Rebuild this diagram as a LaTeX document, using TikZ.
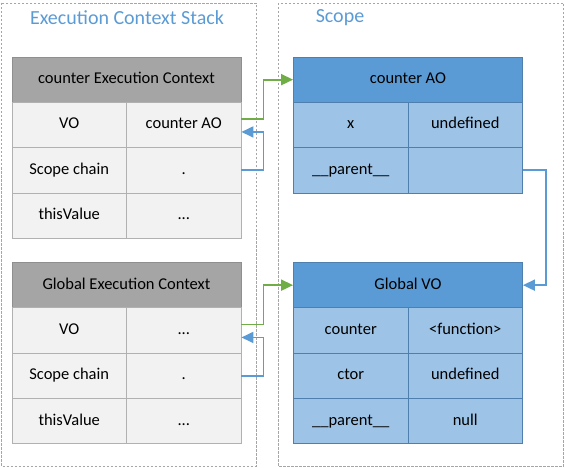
\documentclass[tikz,border=0pt]{standalone}
\usepackage{fontspec}
\setmainfont{Carlito}
\usetikzlibrary{arrows.meta}
\definecolor{framegray}{HTML}{A6A6A6}
\definecolor{titleblue}{HTML}{5B9BD5}
\definecolor{headgray}{HTML}{A5A5A5}
\definecolor{cellgray}{HTML}{F2F2F2}
\definecolor{linegray}{HTML}{8F8F8F}
\definecolor{headblue}{HTML}{5B9BD5}
\definecolor{cellblue}{HTML}{9DC3E6}
\definecolor{lineblue}{HTML}{4F7FAF}
\definecolor{linkgreen}{HTML}{70AD47}
\definecolor{linkblue}{HTML}{5B9BD5}
\begin{document}
\begin{tikzpicture}[x=1pt, y=-1pt]
    \tikzstyle{frame_style}=[draw=framegray, line width=0.8pt, dash pattern=on 2.5pt off 1.5pt]
    \tikzstyle{title_style}=[text=titleblue, font=\fontsize{20}{24}\selectfont]
    \tikzstyle{cell_style}=[rectangle, inner sep=0pt, minimum height=45.3, line width=0.8pt, text height=11.5pt, text depth=3.5pt, font=\fontsize{16.5}{20}\selectfont]
    \tikzstyle{gray_head}=[cell_style, draw=linegray, fill=headgray, minimum width=229]
    \tikzstyle{gray_cell}=[cell_style, draw=linegray!70, fill=cellgray, minimum width=114.5]
    \tikzstyle{blue_head}=[cell_style, draw=lineblue, fill=headblue, minimum width=229]
    \tikzstyle{blue_cell}=[cell_style, draw=lineblue, fill=cellblue, minimum width=114.5]
    \tikzstyle{link_green}=[draw=linkgreen, line width=1.8pt, -{Triangle[length=12pt, width=11pt]}]
    \tikzstyle{link_blue}=[draw=linkblue, line width=1.8pt, -{Triangle[length=12pt, width=11pt]}]

    \useasboundingbox (0,0) rectangle (565,468);

    % frames
    \draw[frame_style] (1.5,3) rectangle (256,466);
    \draw[frame_style] (278,3) rectangle (563.5,466);
    \node at (127,18) [title_style] (title_stack) {Execution Context Stack};
    \node at (340,18) [title_style] (title_scope) {Scope};

    % counter execution context
    \node at (126.5,79.65) [gray_head] (ctx_c_head) {counter Execution Context};
    \foreach \key [count=\i] in {VO, Scope chain, thisValue}
      \node at (69.25, 79.65+45.3*\i) [gray_cell] (ctx_c_key_\i) {\key};
    \node at (183.75,124.95) [gray_cell] (ctx_c_val_1) {counter AO};
    \node at (183.75,170.25) [gray_cell] (ctx_c_val_2) {.};
    \node at (183.75,215.55) [gray_cell] (ctx_c_val_3) {.{}.{}.};

    % global execution context
    \node at (126.5,285.15) [gray_head] (ctx_g_head) {Global Execution Context};
    \foreach \key [count=\i] in {VO, Scope chain, thisValue}
      \node at (69.25, 285.15+45.3*\i) [gray_cell] (ctx_g_key_\i) {\key};
    \node at (183.75,330.45) [gray_cell] (ctx_g_val_1) {.{}.{}.};
    \node at (183.75,375.75) [gray_cell] (ctx_g_val_2) {.};
    \node at (183.75,421.05) [gray_cell] (ctx_g_val_3) {.{}.{}.};

    % counter AO
    \node at (408,79.65) [blue_head] (ao_c_head) {counter AO};
    \node at (350.75,124.95) [blue_cell] (ao_c_key_1) {x};
    \node at (465.25,124.95) [blue_cell] (ao_c_val_1) {undefined};
    \node at (350.75,170.25) [blue_cell] (ao_c_key_2) {\_\_parent\_\_};
    \node at (465.25,170.25) [blue_cell] (ao_c_val_2) {};

    % global VO
    \node at (408,285.15) [blue_head] (vo_g_head) {Global VO};
    \foreach \key [count=\i] in {counter, ctor, \_\_parent\_\_}
      \node at (350.75, 285.15+45.3*\i) [blue_cell] (vo_g_key_\i) {\key};
    \node at (465.25,330.45) [blue_cell] (vo_g_val_1) {<function>};
    \node at (465.25,375.75) [blue_cell] (vo_g_val_2) {undefined};
    \node at (465.25,421.05) [blue_cell] (vo_g_val_3) {null};

    % connect: VO -> activation / variable object
    \draw[link_green] ([yshift=6pt]ctx_c_val_1.east) -- ++(22,0) |- (ao_c_head.west);
    \draw[link_green] ([yshift=6pt]ctx_g_val_1.east) -- ++(22,0) |- (vo_g_head.west);

    % connect: scope chain -> VO
    \draw[link_blue] (ctx_c_val_2.east) -- ++(22,0) |- ([yshift=-7pt]ctx_c_val_1.east);
    \draw[link_blue] (ctx_g_val_2.east) -- ++(22,0) |- ([yshift=-7pt]ctx_g_val_1.east);

    % connect: counter AO parent -> global VO
    \draw[link_blue] (ao_c_val_2.east) -- ++(23,0) |- (vo_g_head.east);
\end{tikzpicture}
\end{document}
